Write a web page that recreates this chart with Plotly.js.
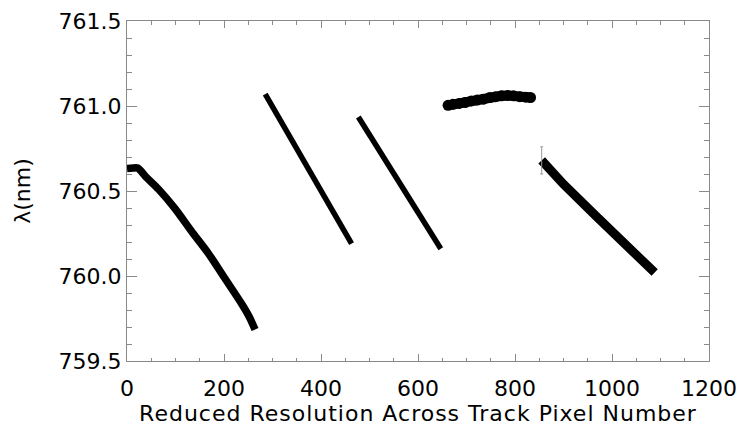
<!DOCTYPE html>
<html>
<head>
<meta charset="utf-8">
<script src="https://cdn.plot.ly/plotly-3.0.1.min.js"></script>
<style>
html,body{margin:0;padding:0;background:#fff;}
#chart{width:739px;height:427px;}
#chart .xtitle{letter-spacing:1px;}
</style>
</head>
<body>
<div id="chart"></div>
<script>
// Segment 1
const seg1X = [0, 12, 22, 40, 65, 99, 133, 168, 202, 236, 252, 264];
const seg1Y = [760.632, 760.635, 760.635, 760.58, 760.51, 760.396, 760.263, 760.132, 759.985, 759.838, 759.76, 759.685];
// Segment 2
const seg2X = [285, 330, 370, 420, 463];
const seg2Y = [761.07, 760.85, 760.65, 760.40, 760.19];
// Segment 3
const seg3X = [477, 520, 563, 605, 647];
const seg3Y = [760.935, 760.74, 760.55, 760.355, 760.16];
// Segment 4
const seg4X = [662, 672, 685, 697, 710, 722, 735, 748, 760, 772, 785, 797, 810, 822, 832];
const seg4Y = [761.004, 761.01, 761.015, 761.02, 761.03, 761.035, 761.04, 761.05, 761.055, 761.06, 761.062, 761.06, 761.055, 761.052, 761.05];
// Segment 5
const seg5X = [855, 900, 968, 1030, 1088];
const seg5Y = [760.68, 760.54, 760.35, 760.18, 760.02];
// Error bar at start of segment 5
const errX = [855];
const errY = [760.68];
const errSize = [0.08];

const axisGray = '#8a8a8a';
const fontFam = '"DejaVu Sans", "Liberation Sans", Arial, sans-serif';

const traces = [
  {x: seg1X, y: seg1Y, mode: 'lines', line: {color: '#000', width: 7.5, shape: 'spline', smoothing: 0.8}, hoverinfo: 'skip'},
  {x: seg2X, y: seg2Y, mode: 'lines', line: {color: '#000', width: 5.5}, hoverinfo: 'skip'},
  {x: seg3X, y: seg3Y, mode: 'lines', line: {color: '#000', width: 5.5}, hoverinfo: 'skip'},
  {x: seg4X, y: seg4Y, mode: 'lines+markers', line: {color: '#000', width: 10}, marker: {color: '#000', size: 11}, hoverinfo: 'skip'},
  {x: seg5X, y: seg5Y, mode: 'lines', line: {color: '#000', width: 9}, hoverinfo: 'skip'},
  {x: errX, y: errY, mode: 'markers', marker: {size: 1, color: 'rgba(0,0,0,0)'},
   error_y: {type: 'data', array: errSize, visible: true, color: '#999', thickness: 1, width: 1.5}, hoverinfo: 'skip'}
];

const layout = {
  width: 739, height: 427,
  margin: {l: 127, r: 30, t: 21, b: 66},
  paper_bgcolor: '#fff', plot_bgcolor: '#fff',
  showlegend: false,
  font: {family: fontFam, color: '#000', size: 22},
  xaxis: {
    range: [0, 1200], dtick: 200, tick0: 0,
    showgrid: false, zeroline: false,
    showline: true, linecolor: axisGray, linewidth: 1, mirror: 'ticks',
    ticks: 'inside', ticklen: 7, tickcolor: axisGray, tickwidth: 1,
    minor: {dtick: 50, ticks: 'inside', ticklen: 3.5, tickcolor: axisGray, tickwidth: 1},
    tickfont: {family: fontFam, size: 22, color: '#000'},
    ticklabelstandoff: 8,
    ticklabeloverflow: 'allow',
    title: {text: 'Reduced Resolution Across Track Pixel Number', font: {family: fontFam, size: 22, color: '#000'}, standoff: 3}
  },
  yaxis: {
    range: [759.5, 761.5], dtick: 0.5, tick0: 759.5, tickformat: '.1f',
    showgrid: false, zeroline: false,
    showline: true, linecolor: axisGray, linewidth: 1, mirror: 'ticks',
    ticks: 'inside', ticklen: 10, tickcolor: axisGray, tickwidth: 1,
    minor: {dtick: 0.1, ticks: 'inside', ticklen: 5, tickcolor: axisGray, tickwidth: 1},
    tickfont: {family: fontFam, size: 22, color: '#000'},
    ticklabelstandoff: 0,
    ticklabeloverflow: 'allow',
    title: {text: 'λ(nm)', font: {family: fontFam, size: 22, color: '#000'}, standoff: 21}
  }
};

Plotly.newPlot('chart', traces, layout, {displayModeBar: false, staticPlot: true});
</script>
</body>
</html>
